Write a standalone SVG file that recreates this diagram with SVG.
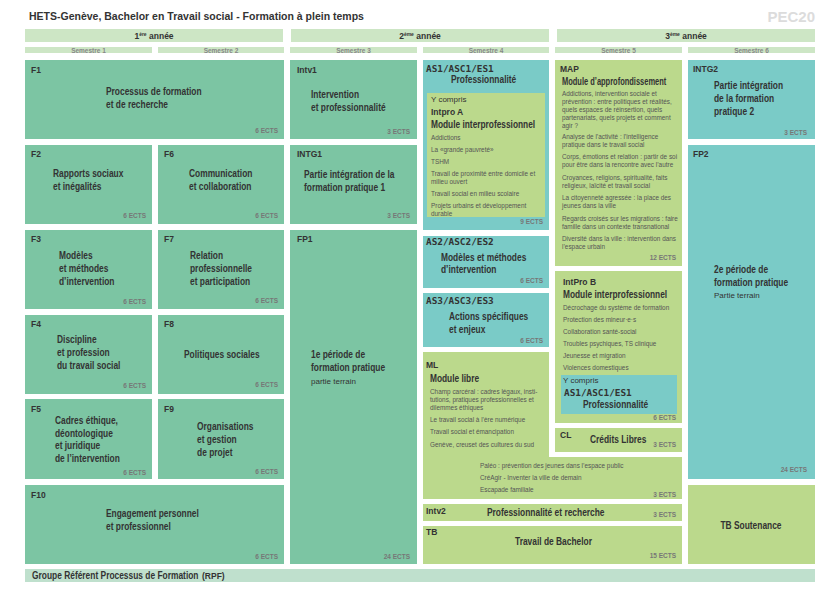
<svg xmlns="http://www.w3.org/2000/svg" width="840" height="594" viewBox="0 0 840 594">
<style>
.g1{fill:#7cc5a3}
.tl{fill:#7acbc7}
.lg{fill:#bbd98c}
.yb{fill:#cde6c5}
.rpf{fill:#bfe0cd}
text{font-family:"Liberation Sans",Arial,sans-serif}
.title{font-weight:bold;font-size:10.5px;fill:#333}
.pec{font-weight:bold;font-size:15px;fill:#dcdcdc}
.year{font-weight:bold;font-size:8.5px;fill:#333;text-anchor:middle}
.sem{font-weight:bold;font-size:6.5px;fill:#888;text-anchor:middle}
.code{font-weight:bold;font-size:8.5px;fill:#333}
.mono{font-family:"DejaVu Sans Mono",monospace;font-weight:bold;font-size:9.4px;fill:#333}
.t{font-weight:bold;font-size:10.5px;fill:#333}
.tb{font-weight:bold;font-size:10.7px;fill:#333}
.sub{font-size:8px;fill:#333}
.it{font-size:6.4px;fill:#555}
.ects{font-weight:bold;font-size:6.5px;fill:#777;text-anchor:end}
</style>

<g id="header">
<text class="title" x="29" y="20">HETS-Genève, Bachelor en Travail social - Formation à plein temps</text>
<text class="pec" x="815" y="22" text-anchor="end">PEC20</text>
</g>

<g id="years">
<rect class="yb" x="25" y="29" width="258" height="13"/>
<rect class="yb" x="291" y="29" width="258" height="13"/>
<rect class="yb" x="557" y="29" width="258" height="13"/>
<text class="year" x="154" y="38.5">1<tspan font-size="5" dy="-3">ère</tspan><tspan dy="3"> année</tspan></text>
<text class="year" x="420" y="38.5">2<tspan font-size="5" dy="-3">ème</tspan><tspan dy="3"> année</tspan></text>
<text class="year" x="686" y="38.5">3<tspan font-size="5" dy="-3">ème</tspan><tspan dy="3"> année</tspan></text>
</g>

<g id="semesters">
<rect class="yb" x="25" y="47" width="127" height="6"/>
<rect class="yb" x="158" y="47" width="126" height="6"/>
<rect class="yb" x="290" y="47" width="127" height="6"/>
<rect class="yb" x="423" y="47" width="126" height="6"/>
<rect class="yb" x="555" y="47" width="127" height="6"/>
<rect class="yb" x="688" y="47" width="127" height="6"/>
<text class="sem" x="88.5" y="52.5">Semestre 1</text>
<text class="sem" x="221" y="52.5">Semestre 2</text>
<text class="sem" x="353.5" y="52.5">Semestre 3</text>
<text class="sem" x="486" y="52.5">Semestre 4</text>
<text class="sem" x="618.5" y="52.5">Semestre 5</text>
<text class="sem" x="751.5" y="52.5">Semestre 6</text>
</g>

<g id="F1">
<rect class="g1" x="25" y="60" width="259" height="79"/>
<text class="code" x="31" y="73">F1</text>
<text class="t" x="106" y="95" transform="matrix(0.8 0 0 1 21.2 0)">Processus de formation</text>
<text class="t" x="106" y="108" transform="matrix(0.8 0 0 1 21.2 0)">et de recherche</text>
<text class="ects" x="278" y="133">6 ECTS</text>
</g>

<g id="F2">
<rect class="g1" x="25" y="145" width="127" height="79"/>
<text class="code" x="31" y="157">F2</text>
<text class="t" x="53" y="177" transform="matrix(0.8 0 0 1 10.6 0)">Rapports sociaux</text>
<text class="t" x="53" y="190" transform="matrix(0.8 0 0 1 10.6 0)">et inégalités</text>
<text class="ects" x="146" y="218">6 ECTS</text>
</g>

<g id="F6">
<rect class="g1" x="158" y="145" width="126" height="79"/>
<text class="code" x="164" y="157">F6</text>
<text class="t" x="189" y="177" transform="matrix(0.8 0 0 1 37.8 0)">Communication</text>
<text class="t" x="189" y="190" transform="matrix(0.8 0 0 1 37.8 0)">et collaboration</text>
<text class="ects" x="278" y="218">6 ECTS</text>
</g>

<g id="F3">
<rect class="g1" x="25" y="230" width="127" height="79"/>
<text class="code" x="31" y="242">F3</text>
<text class="t" x="59" y="259" transform="matrix(0.8 0 0 1 11.8 0)">Modèles</text>
<text class="t" x="59" y="272" transform="matrix(0.8 0 0 1 11.8 0)">et méthodes</text>
<text class="t" x="59" y="285" transform="matrix(0.8 0 0 1 11.8 0)">d’intervention</text>
<text class="ects" x="146" y="304">6 ECTS</text>
</g>

<g id="F7">
<rect class="g1" x="158" y="230" width="126" height="79"/>
<text class="code" x="164" y="242">F7</text>
<text class="t" x="190" y="259" transform="matrix(0.8 0 0 1 38 0)">Relation</text>
<text class="t" x="190" y="272" transform="matrix(0.8 0 0 1 38 0)">professionnelle</text>
<text class="t" x="190" y="285" transform="matrix(0.8 0 0 1 38 0)">et participation</text>
<text class="ects" x="278" y="303">6 ECTS</text>
</g>

<g id="F4">
<rect class="g1" x="25" y="315" width="127" height="79"/>
<text class="code" x="31" y="327">F4</text>
<text class="t" x="57" y="343" transform="matrix(0.8 0 0 1 11.4 0)">Discipline</text>
<text class="t" x="57" y="356" transform="matrix(0.8 0 0 1 11.4 0)">et profession</text>
<text class="t" x="57" y="369" transform="matrix(0.8 0 0 1 11.4 0)">du travail social</text>
<text class="ects" x="146" y="388">6 ECTS</text>
</g>

<g id="F8">
<rect class="g1" x="158" y="315" width="126" height="79"/>
<text class="code" x="164" y="327">F8</text>
<text class="t" x="184" y="358" transform="matrix(0.8 0 0 1 36.8 0)">Politiques sociales</text>
<text class="ects" x="278" y="387">6 ECTS</text>
</g>

<g id="F5">
<rect class="g1" x="25" y="399" width="127" height="80"/>
<text class="code" x="31" y="412">F5</text>
<text class="t" x="55" y="424" transform="matrix(0.8 0 0 1 11 0)">Cadres éthique,</text>
<text class="t" x="55" y="437" transform="matrix(0.8 0 0 1 11 0)">déontologique</text>
<text class="t" x="55" y="449" transform="matrix(0.8 0 0 1 11 0)">et juridique</text>
<text class="t" x="55" y="462" transform="matrix(0.8 0 0 1 11 0)">de l’intervention</text>
<text class="ects" x="146" y="475">6 ECTS</text>
</g>

<g id="F9">
<rect class="g1" x="158" y="399" width="126" height="80"/>
<text class="code" x="164" y="412">F9</text>
<text class="t" x="197" y="430" transform="matrix(0.8 0 0 1 39.4 0)">Organisations</text>
<text class="t" x="197" y="443" transform="matrix(0.8 0 0 1 39.4 0)">et gestion</text>
<text class="t" x="197" y="456" transform="matrix(0.8 0 0 1 39.4 0)">de projet</text>
<text class="ects" x="278" y="474">6 ECTS</text>
</g>

<g id="F10">
<rect class="g1" x="25" y="485" width="259" height="79"/>
<text class="code" x="31" y="498">F10</text>
<text class="t" x="106" y="517" transform="matrix(0.8 0 0 1 21.2 0)">Engagement personnel</text>
<text class="t" x="106" y="530" transform="matrix(0.8 0 0 1 21.2 0)">et professionnel</text>
<text class="ects" x="278" y="559">6 ECTS</text>
</g>

<g id="RPF">
<rect class="rpf" x="25" y="569" width="790" height="13"/>
<text class="t" x="32" y="579" font-size="9.5" transform="matrix(0.8 0 0 1 6.4 0)">Groupe Référent Processus de Formation</text>
<text class="code" x="202" y="579">(RPF)</text>
</g>

<g id="Intv1">
<rect class="g1" x="290" y="60" width="127" height="79"/>
<text class="code" x="297" y="73">Intv1</text>
<text class="t" x="311" y="98" transform="matrix(0.8 0 0 1 62.2 0)">Intervention</text>
<text class="t" x="311" y="111" transform="matrix(0.8 0 0 1 62.2 0)">et professionnalité</text>
<text class="ects" x="410" y="134">3 ECTS</text>
</g>

<g id="INTG1">
<rect class="g1" x="290" y="145" width="127" height="79"/>
<text class="code" x="297" y="157">INTG1</text>
<text class="t" x="304" y="178" transform="matrix(0.8 0 0 1 60.8 0)">Partie intégration de la</text>
<text class="t" x="304" y="191" transform="matrix(0.8 0 0 1 60.8 0)">formation pratique 1</text>
<text class="ects" x="410" y="218">3 ECTS</text>
</g>

<g id="FP1">
<rect class="g1" x="290" y="230" width="127" height="334"/>
<text class="code" x="297" y="242">FP1</text>
<text class="t" x="311" y="358" transform="matrix(0.8 0 0 1 62.2 0)">1e période de</text>
<text class="t" x="311" y="371" transform="matrix(0.8 0 0 1 62.2 0)">formation pratique</text>
<text class="sub" x="311" y="384">partie terrain</text>
<text class="ects" x="410" y="559">24 ECTS</text>
</g>

<g id="AS1">
<rect class="tl" x="423" y="60" width="126" height="170"/>
<text class="mono" x="426" y="71.5">AS1/ASC1/ES1</text>
<text class="t" x="451" y="83" transform="matrix(0.8 0 0 1 90.2 0)">Professionnalité</text>
<rect class="lg" x="427" y="93" width="118" height="124"/>
<text class="sub" x="431" y="102">Y compris</text>
<text class="code" x="431" y="115" font-size="9.2">Intpro A</text>
<text class="tb" x="431" y="128" transform="matrix(0.78 0 0 1 94.82 0)">Module interprofessionnel</text>
<text class="it" x="431" y="140">Addictions</text>
<text class="it" x="431" y="152">La «grande pauvreté»</text>
<text class="it" x="431" y="164">TSHM</text>
<text class="it" x="431" y="176">Travail de proximité entre domicile et</text>
<text class="it" x="431" y="184">milieu ouvert</text>
<text class="it" x="431" y="196">Travail social en milieu scolaire</text>
<text class="it" x="431" y="208">Projets urbains et développement</text>
<text class="it" x="431" y="216">durable</text>
<text class="ects" x="543" y="224">9 ECTS</text>
</g>

<g id="AS2">
<rect class="tl" x="423" y="236" width="126" height="52"/>
<text class="mono" x="426" y="245">AS2/ASC2/ES2</text>
<text class="t" x="441" y="261" transform="matrix(0.8 0 0 1 88.2 0)">Modèles et méthodes</text>
<text class="t" x="441" y="273" transform="matrix(0.8 0 0 1 88.2 0)">d’intervention</text>
<text class="ects" x="543" y="283">6 ECTS</text>
</g>

<g id="AS3">
<rect class="tl" x="423" y="293" width="126" height="54"/>
<text class="mono" x="426" y="304">AS3/ASC3/ES3</text>
<text class="t" x="449" y="320" transform="matrix(0.8 0 0 1 89.8 0)">Actions spécifiques</text>
<text class="t" x="449" y="333" transform="matrix(0.8 0 0 1 89.8 0)">et enjeux</text>
<text class="ects" x="543" y="343">6 ECTS</text>
</g>

<g id="ML">
<polygon class="lg" points="423,352 549,352 549,457 682,457 682,499 423,499"/>
<text class="code" x="426" y="368">ML</text>
<text class="tb" x="430" y="382" transform="matrix(0.78 0 0 1 94.6 0)">Module libre</text>
<text class="it" x="430" y="394">Champ carcéral : cadres légaux, insti-</text>
<text class="it" x="430" y="402">tutions, pratiques professionnelles et</text>
<text class="it" x="430" y="410">dilemmes éthiques</text>
<text class="it" x="430" y="422">Le travail social à l’ère numérique</text>
<text class="it" x="430" y="434">Travail social et émancipation</text>
<text class="it" x="430" y="447">Genève, creuset des cultures du sud</text>
<text class="it" x="480" y="468">Paléo : prévention des jeunes dans l’espace public</text>
<text class="it" x="480" y="480">CréAgir - Inventer la ville de demain</text>
<text class="it" x="480" y="492">Escapade familiale</text>
<text class="ects" x="676" y="497">3 ECTS</text>
</g>

<g id="Intv2">
<rect class="lg" x="423" y="504" width="259" height="17"/>
<text class="code" x="426" y="514">Intv2</text>
<text class="t" x="487" y="516" transform="matrix(0.8 0 0 1 97.4 0)">Professionnalité et recherche</text>
<text class="ects" x="676" y="517">3 ECTS</text>
</g>

<g id="TB">
<rect class="lg" x="423" y="526" width="259" height="38"/>
<text class="code" x="426" y="535">TB</text>
<text class="t" x="515" y="545" transform="matrix(0.8 0 0 1 103 0)">Travail de Bachelor</text>
<text class="ects" x="676" y="558">15 ECTS</text>
</g>

<g id="MAP">
<rect class="lg" x="555" y="60" width="127" height="206"/>
<text class="code" x="560" y="72">MAP</text>
<text class="tb" x="562" y="85" transform="matrix(0.7 0 0 1 168.6 0)">Module d’approfondissement</text>
<text class="it" x="562" y="96">Addictions, intervention sociale et</text>
<text class="it" x="562" y="104">prévention : entre politiques et réalités,</text>
<text class="it" x="562" y="112">quels espaces de réinsertion, quels</text>
<text class="it" x="562" y="120">partenariats, quels projets et comment</text>
<text class="it" x="562" y="128">agir ?</text>
<text class="it" x="562" y="139">Analyse de l’activité : l’intelligence</text>
<text class="it" x="562" y="147">pratique dans le travail social</text>
<text class="it" x="562" y="159">Corps, émotions et relation : partir de soi</text>
<text class="it" x="562" y="167">pour être dans la rencontre avec l’autre</text>
<text class="it" x="562" y="180">Croyances, religions, spiritualité, faits</text>
<text class="it" x="562" y="188">religieux, laïcité et travail social</text>
<text class="it" x="562" y="200">La citoyenneté agressée : la place des</text>
<text class="it" x="562" y="208">jeunes dans la ville</text>
<text class="it" x="562" y="221">Regards croisés sur les migrations : faire</text>
<text class="it" x="562" y="229">famille dans un contexte transnational</text>
<text class="it" x="562" y="241">Diversité dans la ville : intervention dans</text>
<text class="it" x="562" y="249">l’espace urbain</text>
<text class="ects" x="676" y="260">12 ECTS</text>
</g>

<g id="IntProB">
<rect class="lg" x="555" y="271" width="127" height="152"/>
<text class="code" x="563" y="285" font-size="9.2">IntPro B</text>
<text class="tb" x="563" y="298" transform="matrix(0.78 0 0 1 123.86 0)">Module interprofessionnel</text>
<text class="it" x="563" y="310">Décrochage du système de formation</text>
<text class="it" x="563" y="322">Protection des mineur·e·s</text>
<text class="it" x="563" y="334">Collaboration santé-social</text>
<text class="it" x="563" y="346">Troubles psychiques, TS clinique</text>
<text class="it" x="563" y="358">Jeunesse et migration</text>
<text class="it" x="563" y="370">Violences domestiques</text>
<rect class="tl" x="561" y="375" width="116" height="39"/>
<text class="sub" x="563" y="383">Y compris</text>
<text class="mono" x="564" y="396">AS1/ASC1/ES1</text>
<text class="t" x="583" y="408" transform="matrix(0.8 0 0 1 116.6 0)">Professionnalité</text>
<text class="ects" x="676" y="420">6 ECTS</text>
</g>

<g id="CL">
<rect class="lg" x="555" y="428" width="127" height="24"/>
<text class="code" x="560" y="438" font-size="9.5">CL</text>
<text class="t" x="590" y="443" transform="matrix(0.8 0 0 1 118 0)">Crédits Libres</text>
<text class="ects" x="676" y="447">3 ECTS</text>
</g>

<g id="INTG2">
<rect class="tl" x="688" y="60" width="127" height="79"/>
<text class="code" x="693" y="72">INTG2</text>
<text class="t" x="714" y="89" transform="matrix(0.8 0 0 1 142.8 0)">Partie intégration</text>
<text class="t" x="714" y="102" transform="matrix(0.8 0 0 1 142.8 0)">de la formation</text>
<text class="t" x="714" y="115" transform="matrix(0.8 0 0 1 142.8 0)">pratique 2</text>
<text class="ects" x="807" y="135">3 ECTS</text>
</g>

<g id="FP2">
<rect class="tl" x="688" y="145" width="127" height="334"/>
<text class="code" x="693" y="157">FP2</text>
<text class="t" x="714" y="273" transform="matrix(0.8 0 0 1 142.8 0)">2e période de</text>
<text class="t" x="714" y="286" transform="matrix(0.8 0 0 1 142.8 0)">formation pratique</text>
<text class="sub" x="714" y="298">Partie terrain</text>
<text class="ects" x="807" y="472">24 ECTS</text>
</g>

<g id="TBSoutenance">
<rect class="lg" x="688" y="485" width="127" height="79"/>
<text class="t" x="751" y="529" text-anchor="middle" transform="matrix(0.8 0 0 1 150.2 0)">TB Soutenance</text>
</g>
</svg>
